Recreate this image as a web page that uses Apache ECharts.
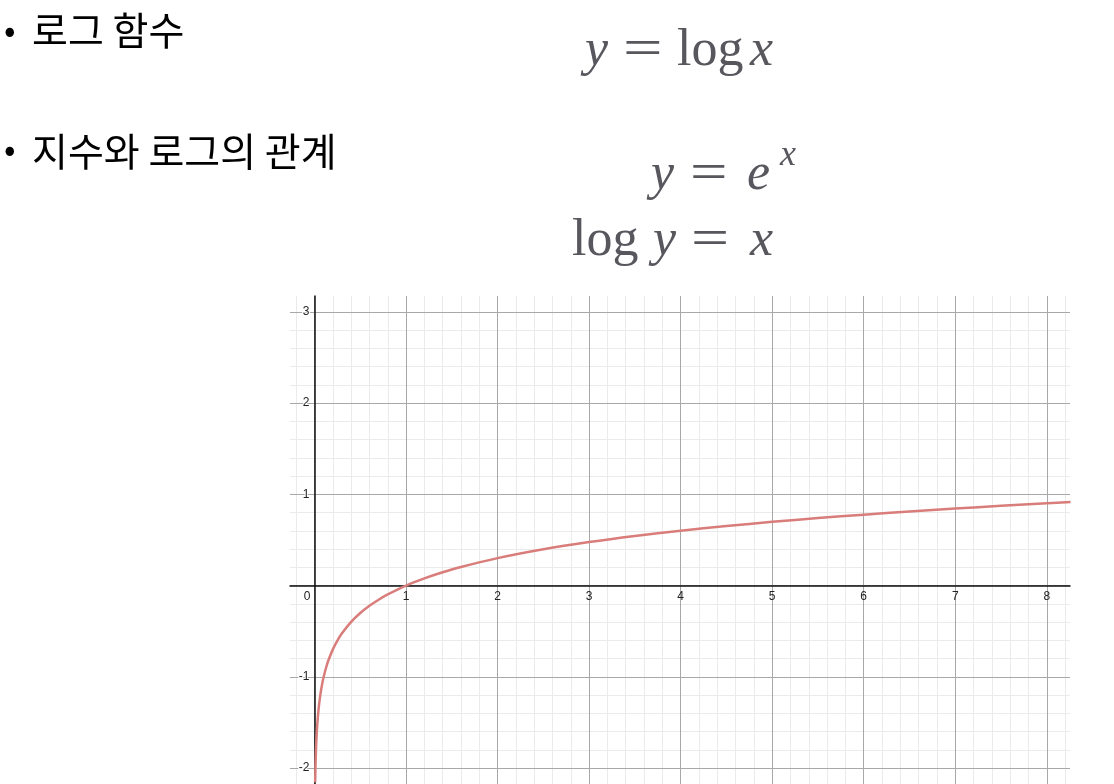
<!DOCTYPE html>
<html>
<head>
<meta charset="utf-8">
<script src="https://cdn.jsdelivr.net/npm/echarts@6/dist/echarts.min.js"></script>
<style>
html,body{margin:0;padding:0;background:#fff;}
#chart{width:1114px;height:784px;}
</style>
</head>
<body>
<div id="chart"></div>
<script>
// ---- data ----
var bulletTexts = ['로그 함수', '지수와 로그의 관계'];
var curveX = [0.007, 0.01, 0.013, 0.016, 0.02, 0.025, 0.03, 0.04, 0.05, 0.065, 0.08, 0.1, 0.125, 0.15, 0.2, 0.25, 0.3, 0.4, 0.5, 0.6, 0.7, 0.8, 1, 1.2, 1.4, 1.6, 2, 2.5, 3, 3.5, 4, 4.5, 5, 5.5, 6, 6.5, 7, 7.5, 8, 8.26];
var curveY = [-2.155, -2.0, -1.886, -1.796, -1.699, -1.602, -1.523, -1.398, -1.301, -1.187, -1.097, -1.0, -0.903, -0.824, -0.699, -0.602, -0.523, -0.398, -0.301, -0.222, -0.155, -0.097, 0, 0.079, 0.146, 0.204, 0.301, 0.398, 0.477, 0.544, 0.602, 0.653, 0.699, 0.740, 0.778, 0.813, 0.845, 0.875, 0.903, 0.917];
var xRange = [-0.268, 8.254];
var yRange = [-2.175, 3.175];

var points = curveX.map(function (x, i) { return [x, curveY[i]]; });

function isInt(v) { return Math.abs(v - Math.round(v)) < 1e-6; }

var chart = echarts.init(document.getElementById('chart'), null, {renderer: 'canvas'});

var mathColor = '#57575d';
var serif = '"Liberation Serif"';
var cjk = '"Noto Sans CJK KR"';

function tok(text, x, top, opts) {
  opts = opts || {};
  var size = opts.size || 52;
  var font = (opts.italic ? 'italic ' : '') + size + 'px ' + serif;
  var el = {type: 'text', x: x, y: top, style: {text: text, font: font, fill: mathColor}};
  if (opts.scaleX) { el.scaleX = opts.scaleX; }
  return el;
}

var option = {
  backgroundColor: '#fff',
  animation: false,
  grid: {left: 290, right: 44, top: 296, bottom: 0, containLabel: false, outerBoundsMode: 'none'},
  xAxis: [
    {
      type: 'value', position: 'bottom', min: xRange[0], max: xRange[1],
      minInterval: 1, maxInterval: 1, splitNumber: 8, z: 3,
      axisLine: {show: true, onZero: false, lineStyle: {color: '#111', width: 1.5}},
      axisTick: {show: false},
      axisLabel: {
        show: true, margin: 5, fontSize: 12, fontFamily: 'Liberation Sans', color: '#222',
        formatter: function (v) {
          if (!isInt(v)) return '';
          var r = Math.round(v);
          if (r === 0) return '{o|0}';
          return String(r);
        },
        rich: {o: {fontSize: 12, fontFamily: 'Liberation Sans', color: '#222', padding: [0, 15, 0, 0]}}
      },
      splitLine: {show: true, showMinLine: false, showMaxLine: false, lineStyle: {color: '#a8a8a8', width: 1}}
    },
    {
      type: 'value', position: 'top', min: xRange[0], max: xRange[1],
      minInterval: 0.2, maxInterval: 0.2, splitNumber: 42, z: 1,
      axisLine: {show: false, onZero: false}, axisTick: {show: false}, axisLabel: {show: false},
      splitLine: {show: true, showMinLine: false, showMaxLine: false, lineStyle: {color: '#ebebeb', width: 1}}
    }
  ],
  yAxis: [
    {
      type: 'value', position: 'left', min: yRange[0], max: yRange[1],
      minInterval: 1, maxInterval: 1, splitNumber: 5, z: 3,
      axisLine: {show: true, onZero: false, lineStyle: {color: '#111', width: 1.5}},
      axisTick: {show: false},
      axisLabel: {
        margin: 5, fontSize: 12, fontFamily: 'Liberation Sans', color: '#222',
        textBorderColor: '#fff', textBorderWidth: 2,
        formatter: function (v) {
          if (!isInt(v)) return '';
          var r = Math.round(v);
          if (r === 0) return '';
          return String(r);
        }
      },
      splitLine: {show: true, showMinLine: false, showMaxLine: false, lineStyle: {color: '#a8a8a8', width: 1}}
    },
    {
      type: 'value', position: 'right', min: yRange[0], max: yRange[1],
      minInterval: 0.2, maxInterval: 0.2, splitNumber: 27, z: 1,
      axisLine: {show: false, onZero: false}, axisTick: {show: false}, axisLabel: {show: false},
      splitLine: {show: true, showMinLine: false, showMaxLine: false, lineStyle: {color: '#ebebeb', width: 1}}
    }
  ],
  series: [{
    type: 'line',
    xAxisIndex: 0, yAxisIndex: 0,
    data: points,
    showSymbol: false,
    smooth: 0.3,
    clip: true,
    z: 5,
    lineStyle: {color: '#d97d7b', width: 2.5}
  }],
  graphic: [
    {type: 'text', x: 4, y: 29, style: {text: '•', font: '34px ' + cjk, fill: '#000', verticalAlign: 'middle'}},
    {type: 'text', x: 32, y: 30, style: {text: bulletTexts[0], font: '39px ' + cjk, fill: '#000', verticalAlign: 'middle'}},
    {type: 'text', x: 4, y: 148, style: {text: '•', font: '34px ' + cjk, fill: '#000', verticalAlign: 'middle'}},
    {type: 'text', x: 32, y: 151, style: {text: bulletTexts[1], font: '39px ' + cjk, fill: '#000', verticalAlign: 'middle'}},
    // y = log x
    tok('y', 585, 25, {italic: true}),
    tok('=', 623, 25, {scaleX: 1.35}),
    tok('log', 677, 25),
    tok('x', 750, 25, {italic: true}),
    // y = e^x
    tok('y', 651, 149, {italic: true}),
    tok('=', 690, 149, {scaleX: 1.28}),
    tok('e', 747, 149, {italic: true}),
    tok('x', 780, 138, {italic: true, size: 36}),
    // log y = x
    tok('log', 572, 215),
    tok('y', 653, 215, {italic: true}),
    tok('=', 691, 215, {scaleX: 1.3}),
    tok('x', 750, 215, {italic: true})
  ]
};
chart.setOption(option);

// place the two main axes through the origin using the library's own scales
var origin = chart.convertToPixel({xAxisIndex: 0, yAxisIndex: 0}, [0, 0]);
var corner = chart.convertToPixel({xAxisIndex: 0, yAxisIndex: 0}, [xRange[0], yRange[0]]);
chart.setOption({
  xAxis: [{offset: origin[1] - corner[1]}, {}],
  yAxis: [{offset: corner[0] - origin[0]}, {}]
});
</script>
</body>
</html>
